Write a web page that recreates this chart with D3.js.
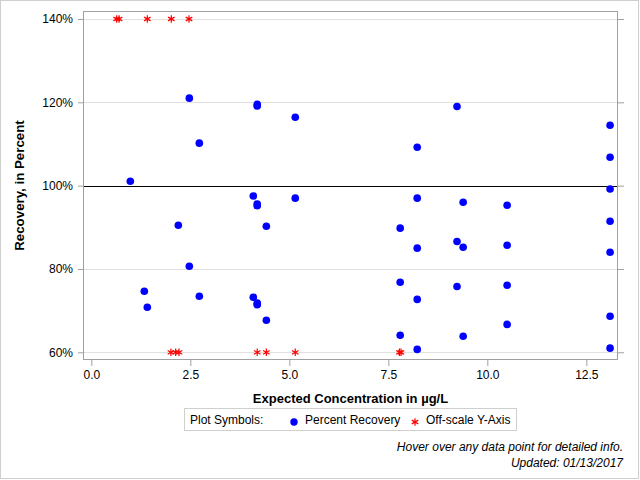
<!DOCTYPE html>
<html>
<head>
<meta charset="utf-8">
<script src="https://cdn.jsdelivr.net/npm/d3@7"></script>
<style>
  html, body { margin: 0; padding: 0; background: #fff; }
  svg { display: block; font-family: "Liberation Sans", Arial, sans-serif; }
</style>
</head>
<body>
<svg id="chart" width="640" height="480"></svg>
<script>
// ---- Data ----
const recoveryX = [0.985, 1.338, 1.414, 2.197, 2.475, 2.475, 2.727, 2.727,
  4.09, 4.09, 4.19, 4.19, 4.19, 4.19, 4.19, 4.19, 4.42, 4.42, 5.15, 5.15,
  7.80, 7.80, 7.80, 8.23, 8.23, 8.23, 8.23, 8.23, 9.235, 9.235, 9.235,
  9.39, 9.39, 9.39, 10.5, 10.5, 10.5, 10.5,
  13.1, 13.1, 13.1, 13.1, 13.1, 13.1, 13.1];
const recoveryY = [101.05, 74.65, 70.8, 90.5, 121.0, 80.65, 110.2, 73.45,
  97.5, 73.2, 119.5, 119.1, 95.6, 95.2, 71.8, 71.4, 90.25, 67.7, 116.4, 97.0,
  89.8, 76.8, 64.1, 109.2, 97.0, 85.0, 72.7, 60.7, 119.0, 86.6, 75.8,
  96.0, 85.2, 63.85, 95.3, 85.7, 76.1, 66.7,
  114.5, 106.8, 99.2, 91.45, 84.0, 68.65, 61.0];
const offscaleX = [0.64, 0.70, 1.414, 2.02, 2.467, 2.01, 2.13, 2.215, 4.19, 4.42, 5.15, 7.78, 7.82];
const offscaleY = [140, 140, 140, 140, 140, 60, 60, 60, 60, 60, 60, 60, 60];
const xTicks = [0, 2.5, 5, 7.5, 10, 12.5];
const yTicks = [60, 80, 100, 120, 140];
const referenceLine = 100;
const xTitle = "Expected Concentration in \u00b5g/L";
const yTitle = "Recovery, in Percent";
const legendTitle = "Plot Symbols:";
const legendItems = ["Percent Recovery", "Off-scale Y-Axis"];
const footnotes = ["Hover over any data point for detailed info.", "Updated: 01/13/2017"];

// ---- Layout ----
const svg = d3.select("#chart");
const L = 83, R = 618, T = 11, B = 360;
const x = d3.scaleLinear().domain([-0.21, 13.30]).range([L, R]);
const y = d3.scaleLinear().domain([58.15, 141.92]).range([B, T]);
const frameColor = "#a0a0a0";

// outer border
svg.append("rect").attr("x", 0.5).attr("y", 0.5).attr("width", 638).attr("height", 478)
  .attr("fill", "none").attr("stroke", "#cfcfcf");

// grid lines
svg.append("g").selectAll("line").data(yTicks.filter(d => d !== referenceLine)).join("line")
  .attr("x1", L).attr("x2", R)
  .attr("y1", d => Math.round(y(d)) + 0.5).attr("y2", d => Math.round(y(d)) + 0.5)
  .attr("stroke", "#e0e0e0").attr("stroke-width", 1);

// reference line
svg.append("line").attr("x1", L).attr("x2", R)
  .attr("y1", Math.round(y(referenceLine)) + 0.5).attr("y2", Math.round(y(referenceLine)) + 0.5)
  .attr("stroke", "#000").attr("stroke-width", 1);

// axes
const styleAxis = g => {
  g.select(".domain").remove();
  g.selectAll(".tick line").attr("stroke", frameColor);
  g.selectAll(".tick text").attr("fill", "#000").style("font-size", "12px")
    .style("font-family", "'Liberation Sans', Arial, sans-serif");
};
svg.append("g").attr("transform", `translate(0,${B})`)
  .call(d3.axisBottom(x).tickValues(xTicks).tickFormat(d3.format(".1f")).tickSize(6).tickPadding(4))
  .call(styleAxis);
svg.append("g").attr("transform", `translate(${L},0)`)
  .call(d3.axisLeft(y).tickValues(yTicks).tickFormat(d => d + "%").tickSize(5).tickPadding(5))
  .call(styleAxis);
svg.append("g").attr("transform", `translate(${R},0)`)
  .call(d3.axisRight(y).tickValues(yTicks).tickFormat("").tickSize(6))
  .call(styleAxis);

// frame
svg.append("rect").attr("x", L + 0.5).attr("y", T + 0.5).attr("width", R - L - 1).attr("height", B - T - 1)
  .attr("fill", "none").attr("stroke", frameColor);

// asterisk symbol path
function asterisk(s) {
  const h = s / 2, d = h * 0.87, e = h * 0.5;
  return `M0,${-h}L0,${h}M${-d},${-e}L${d},${e}M${-d},${e}L${d},${-e}`;
}

// data points
svg.append("g").selectAll("circle").data(recoveryX.map((v, i) => [v, recoveryY[i]])).join("circle")
  .attr("cx", d => x(d[0])).attr("cy", d => y(d[1])).attr("r", 3.8).attr("fill", "#0000ff");

svg.append("g").selectAll("path").data(offscaleX.map((v, i) => [v, offscaleY[i]])).join("path")
  .attr("transform", d => `translate(${x(d[0])},${y(d[1])})`)
  .attr("d", asterisk(7.5)).attr("stroke", "#ff0000").attr("stroke-width", 1.2).attr("fill", "none");

// axis titles
svg.append("text").attr("x", (L + R) / 2).attr("y", 403).attr("text-anchor", "middle")
  .style("font-size", "13px").style("font-weight", "bold").text(xTitle);
svg.append("text").attr("transform", `translate(24,${(T + B) / 2}) rotate(-90)`).attr("text-anchor", "middle")
  .style("font-size", "13.3px").style("font-weight", "bold").text(yTitle);

// legend
const lg = svg.append("g");
lg.append("rect").attr("x", 184.5).attr("y", 408.5).attr("width", 332).attr("height", 22)
  .attr("fill", "#fff").attr("stroke", "#cfcfcf");
lg.append("text").attr("x", 190).attr("y", 424).style("font-size", "12px").text(legendTitle);
lg.append("circle").attr("cx", 294).attr("cy", 422).attr("r", 3.7).attr("fill", "#0000ff");
lg.append("text").attr("x", 305).attr("y", 424).style("font-size", "12px").text(legendItems[0]);
lg.append("path").attr("transform", "translate(415,422)").attr("d", asterisk(7.5))
  .attr("stroke", "#ff0000").attr("stroke-width", 1.2).attr("fill", "none");
lg.append("text").attr("x", 426).attr("y", 424).style("font-size", "12px").text(legendItems[1]);

// footnotes
svg.append("g").selectAll("text").data(footnotes).join("text")
  .attr("x", 623).attr("y", (d, i) => 451 + i * 16).attr("text-anchor", "end")
  .style("font-size", "12px").style("font-style", "italic").text(d => d);
</script>
</body>
</html>
